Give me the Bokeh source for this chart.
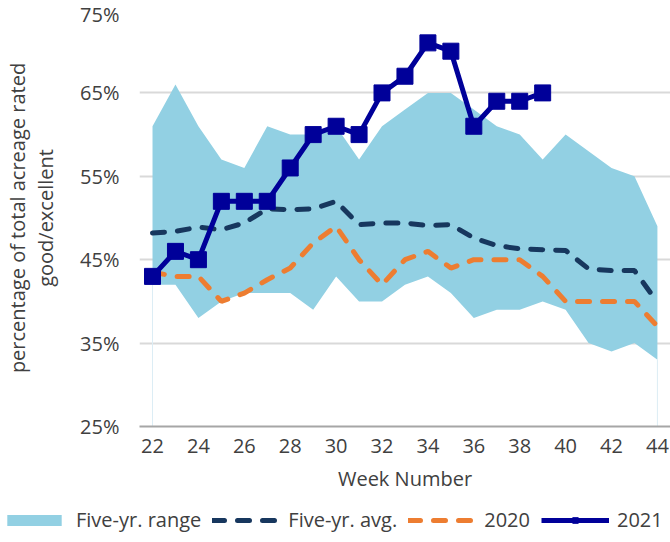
from bokeh.plotting import figure
from bokeh.layouts import column
from bokeh.models import ColumnDataSource, Legend, LegendItem, FixedTicker, CustomJSTickFormatter
from bokeh.embed import file_html
from bokeh.resources import INLINE

weeks = list(range(22, 45))
range_low = [42, 42, 38, 40, 41, 41, 41, 39, 43, 40, 40, 42, 43, 41, 38, 39, 39, 40, 39, 35, 34, 35, 33]
range_high = [61, 66, 61, 57, 56, 61, 60, 60, 61, 57, 61, 63, 65, 65, 63, 61, 60, 57, 60, 58, 56, 55, 49]
avg5 = [48.2, 48.4, 48.9, 48.6, 49.4, 51.1, 51.0, 51.1, 52.0, 49.2, 49.4, 49.4, 49.1, 49.2,
        47.6, 46.7, 46.3, 46.2, 46.1, 43.9, 43.7, 43.7, 39.9]
y2020 = [43.5, 43, 43, 40, 41, 42.6, 44, 47, 49, 45, 42, 45, 46, 44, 45, 45, 45, 43, 40, 40, 40, 40, 37]
weeks2021 = list(range(22, 40))
y2021 = [43, 46, 45, 52, 52, 52, 56, 60, 61, 60, 65, 67, 71, 70, 61, 64, 64, 65]
x_ticks = list(range(22, 45, 2))
y_ticks = [25, 35, 45, 55, 65, 75]
legend_labels = ["Five-yr. range", "Five-yr. avg.", "2020", "2021"]

FONT = "Open Sans"
TXT = "#404040"
C_RANGE = "#92D0E3"
C_AVG = "#17375E"
C_2020 = "#ED7D31"
C_2021 = "#000099"
DASH = "12 13"

W = 672
p = figure(width=W, height=502, output_backend="svg", toolbar_location=None, title=None,
           x_range=(21.433, 44.57), y_range=(25, 75),
           min_border_left=134, min_border_right=2, min_border_top=9, min_border_bottom=76)
p.frame_align = False
p.outline_line_color = None
p.background_fill_color = "white"
p.border_fill_color = "white"

src = ColumnDataSource(dict(x=weeks, lo=range_low, hi=range_high, avg=avg5, y20=y2020))
src21 = ColumnDataSource(dict(x=weeks2021, y=y2021))


def draw(fig):
    ra = fig.varea(x="x", y1="lo", y2="hi", source=src, fill_color=C_RANGE)
    av = fig.line(x="x", y="avg", source=src, line_color=C_AVG, line_width=5, line_dash=DASH, line_cap="round")
    l20 = fig.line(x="x", y="y20", source=src, line_color=C_2020, line_width=5, line_dash=DASH, line_cap="round")
    l21 = fig.line(x="x", y="y", source=src21, line_color=C_2021, line_width=5)
    m21 = fig.scatter(x="x", y="y", source=src21, marker="square", size=16, fill_color=C_2021, line_color=C_2021)
    return ra, av, l20, l21, m21


p.segment(x0=[weeks[0], weeks[-1]], y0=[25, 25], x1=[weeks[0], weeks[-1]],
          y1=[range_low[0], range_low[-1]], line_color="#dcedf5", line_width=1)
draw(p)

p.xaxis.ticker = FixedTicker(ticks=x_ticks)
p.yaxis.ticker = FixedTicker(ticks=y_ticks)
p.yaxis.formatter = CustomJSTickFormatter(code="return tick + '%';")
for ax in (p.xaxis[0], p.yaxis[0]):
    ax.major_tick_line_color = None
    ax.minor_tick_line_color = None
    ax.major_tick_out = 0
    ax.major_tick_in = 0
    ax.minor_tick_out = 0
    ax.minor_tick_in = 0
    ax.major_label_text_font = FONT
    ax.major_label_text_font_size = "20px"
    ax.major_label_text_color = TXT
    ax.axis_label_text_font = FONT
    ax.axis_label_text_font_size = "20px"
    ax.axis_label_text_color = TXT
    ax.axis_label_text_font_style = "normal"
p.yaxis.axis_line_color = None
p.yaxis.major_label_standoff = 20
p.yaxis.axis_label = "percentage of total acreage rated\ngood/excellent"
p.yaxis.axis_label_standoff = 18
p.yaxis.axis_label_text_line_height = 1.05
p.xaxis.axis_line_color = "#a6a6a6"
p.xaxis.axis_line_width = 2
p.xaxis.major_label_standoff = 12
p.xaxis.axis_label = "Week Number"
p.xaxis.axis_label_standoff = 9

p.xgrid.grid_line_color = None
p.ygrid.grid_line_color = "#D9D9D9"
p.ygrid.grid_line_width = 2

# legend row: same renderers, drawn in a figure whose ranges keep the data out of view
lf = figure(width=W, height=32, output_backend="svg", toolbar_location=None, title=None,
            x_range=(0, 1), y_range=(0, 1), x_axis_location=None, y_axis_location=None,
            min_border_left=0, min_border_right=0, min_border_top=0, min_border_bottom=0)
lf.frame_align = False
lf.grid.visible = False
lf.outline_line_color = None
lf.border_fill_color = "white"
lf.background_fill_color = "white"
l_range, l_avg, l_20, l_21, l_21m = draw(lf)

legend = Legend(items=[
    LegendItem(label=legend_labels[0], renderers=[l_range]),
    LegendItem(label=legend_labels[1], renderers=[l_avg]),
    LegendItem(label=legend_labels[2], renderers=[l_20]),
    LegendItem(label=legend_labels[3], renderers=[l_21, l_21m]),
], orientation="horizontal", location=(0, 1))
legend.border_line_color = None
legend.background_fill_alpha = 0
legend.padding = 0
legend.margin = 0
legend.spacing = 11
legend.glyph_width = 68
legend.glyph_height = 14
legend.label_standoff = 8
legend.label_text_font = FONT
legend.label_text_font_size = "20px"
legend.label_text_color = TXT
lf.add_layout(legend, "center")

layout = column(p, lf, spacing=0)
open("out.html", "w").write(file_html(layout, INLINE))
